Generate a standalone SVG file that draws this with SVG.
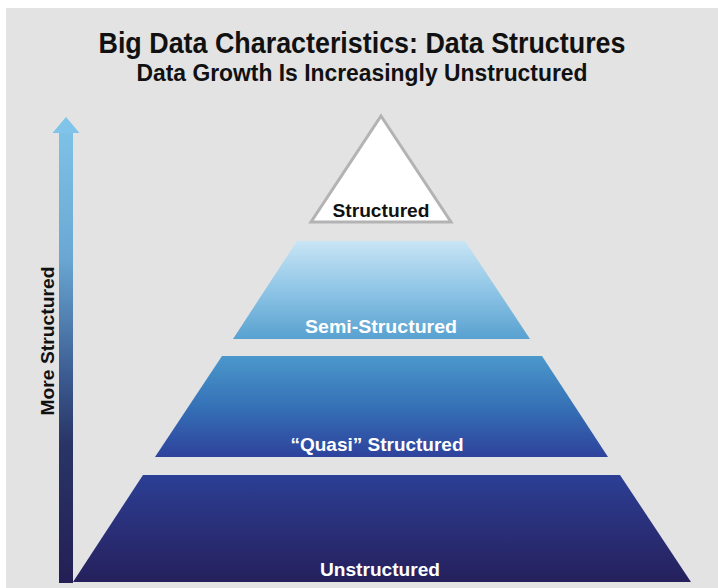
<svg xmlns="http://www.w3.org/2000/svg" width="718" height="588" viewBox="0 0 718 588">
  <style>
    .t { font-family: "Liberation Sans Narrow", "Liberation Sans", Arial, sans-serif; }
    .title { font-size: 29px; font-weight: bold; fill: #111; }
    .sub { font-size: 23px; font-weight: bold; fill: #111; }
    .lbl { font-size: 19px; font-weight: bold; fill: #ffffff; }
    .dark { fill: #111; }
  </style>
  <defs>
    <linearGradient id="gArrow" x1="0" y1="117" x2="0" y2="583" gradientUnits="userSpaceOnUse">
      <stop offset="0" stop-color="#80c4e9"/>
      <stop offset="0.3" stop-color="#6aa8d3"/>
      <stop offset="0.55" stop-color="#3c5d93"/>
      <stop offset="0.7" stop-color="#293566"/>
      <stop offset="1" stop-color="#241f55"/>
    </linearGradient>
    <linearGradient id="gSemi" x1="0" y1="241" x2="0" y2="339" gradientUnits="userSpaceOnUse">
      <stop offset="0" stop-color="#c8e5f5"/>
      <stop offset="0.5" stop-color="#8fc5e6"/>
      <stop offset="1" stop-color="#58a1d0"/>
    </linearGradient>
    <linearGradient id="gQuasi" x1="0" y1="356" x2="0" y2="457" gradientUnits="userSpaceOnUse">
      <stop offset="0" stop-color="#4b98cc"/>
      <stop offset="0.5" stop-color="#3571b6"/>
      <stop offset="1" stop-color="#2e429c"/>
    </linearGradient>
    <linearGradient id="gUn" x1="0" y1="475" x2="0" y2="582" gradientUnits="userSpaceOnUse">
      <stop offset="0" stop-color="#2b3f94"/>
      <stop offset="0.5" stop-color="#2a2f78"/>
      <stop offset="1" stop-color="#25205c"/>
    </linearGradient>
  </defs>

  <rect x="0" y="0" width="718" height="588" fill="#ffffff"/>
  <rect x="6" y="8" width="712" height="580" fill="#e3e3e3"/>

  <g id="title">
    <text class="t title" x="362" y="53" text-anchor="middle" textLength="527" lengthAdjust="spacingAndGlyphs">Big Data Characteristics: Data Structures</text>
    <text class="t sub" x="362" y="81" text-anchor="middle" textLength="451" lengthAdjust="spacingAndGlyphs">Data Growth Is Increasingly Unstructured</text>
  </g>

  <g id="connectors">
    <g id="axis-arrow">
      <rect x="59" y="132" width="14" height="451" fill="url(#gArrow)"/>
      <polygon points="66,117 79.5,133 52.5,133" fill="#80c4e9"/>
    </g>
  </g>

  <g id="axis-label">
    <text class="t dark" font-size="19" font-weight="bold" transform="translate(54,341) rotate(-90)" text-anchor="middle" textLength="149" lengthAdjust="spacingAndGlyphs">More Structured</text>
  </g>

  <g id="structured">
    <polygon points="381,116 451,222 311,222" fill="#ffffff" stroke="#b3b3b3" stroke-width="3" stroke-linejoin="miter"/>
    <text class="t dark" x="381" y="217" font-size="19" font-weight="bold" text-anchor="middle" textLength="97" lengthAdjust="spacingAndGlyphs">Structured</text>
  </g>

  <g id="semi-structured">
    <polygon points="297,241 465,241 530,339 233,339" fill="url(#gSemi)"/>
    <text class="t lbl" x="381" y="333" text-anchor="middle" textLength="152" lengthAdjust="spacingAndGlyphs">Semi-Structured</text>
  </g>

  <g id="quasi-structured">
    <polygon points="222,356 542,356 608,457 155,457" fill="url(#gQuasi)"/>
    <text class="t lbl" x="377" y="451" text-anchor="middle" textLength="173" lengthAdjust="spacingAndGlyphs">“Quasi” Structured</text>
  </g>

  <g id="unstructured">
    <polygon points="143,475 620,475 691,582 73,582" fill="url(#gUn)"/>
    <text class="t lbl" x="380" y="576" text-anchor="middle" textLength="120" lengthAdjust="spacingAndGlyphs">Unstructured</text>
  </g>
</svg>
